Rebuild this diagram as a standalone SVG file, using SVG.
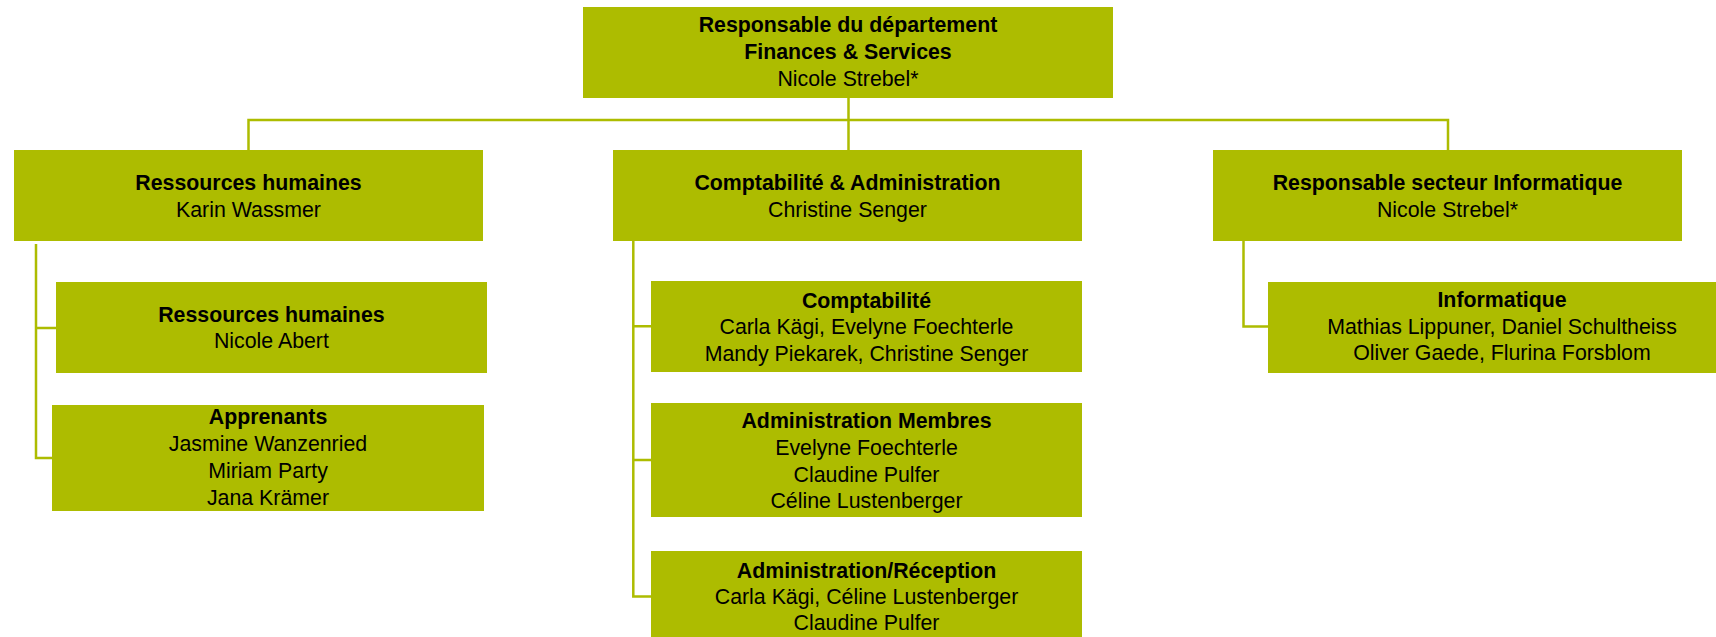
<svg xmlns="http://www.w3.org/2000/svg" width="1716" height="637" viewBox="0 0 1716 637">
<style>
.box{fill:#adbc00;}
.c{fill:none;stroke:#adbc00;stroke-width:2.5;}
text{font-family:"Liberation Sans",Arial,sans-serif;font-size:21.33px;fill:#000;text-anchor:middle;}
.b{font-weight:bold;}
</style>
<rect width="1716" height="637" fill="#ffffff"/>
<g id="connectors">
<path class="c" d="M848.5 97 V120 M248.5 150 V120 H1448 V150 M848.5 120 V150"/>
<path class="c" d="M36 244 V458 H52 M36 328 H56"/>
<path class="c" d="M633.3 241 V596.5 H651 M633.3 326.3 H651 M633.3 460 H651"/>
<path class="c" d="M1243.5 241 V326.5 H1268"/>
</g>
<g id="top">
<rect class="box" x="583" y="7" width="530" height="91"/>
<text x="848" y="32" class="b">Responsable du département</text>
<text x="848" y="59" class="b">Finances &amp; Services</text>
<text x="848" y="86">Nicole Strebel*</text>
</g>
<g id="rh">
<rect class="box" x="14" y="150" width="469" height="91"/>
<text x="248.5" y="190" class="b">Ressources humaines</text>
<text x="248.5" y="216.7">Karin Wassmer</text>
</g>
<g id="compta-admin">
<rect class="box" x="613" y="150" width="469" height="91"/>
<text x="847.5" y="190" class="b">Comptabilité &amp; Administration</text>
<text x="847.5" y="216.7">Christine Senger</text>
</g>
<g id="info-resp">
<rect class="box" x="1213" y="150" width="469" height="91"/>
<text x="1447.5" y="190" class="b">Responsable secteur Informatique</text>
<text x="1447.5" y="216.7">Nicole Strebel*</text>
</g>
<g id="rh2">
<rect class="box" x="56" y="282" width="431" height="91"/>
<text x="271.4" y="321.7" class="b">Ressources humaines</text>
<text x="271.4" y="348.3">Nicole Abert</text>
</g>
<g id="apprenants">
<rect class="box" x="52" y="405" width="432" height="106"/>
<text x="268" y="424.3" class="b">Apprenants</text>
<text x="268" y="451">Jasmine Wanzenried</text>
<text x="268" y="478.3">Miriam Party</text>
<text x="268" y="505">Jana Krämer</text>
</g>
<g id="comptabilite">
<rect class="box" x="651" y="281" width="431" height="91"/>
<text x="866.5" y="307.7" class="b">Comptabilité</text>
<text x="866.5" y="334">Carla Kägi, Evelyne Foechterle</text>
<text x="866.5" y="361">Mandy Piekarek, Christine Senger</text>
</g>
<g id="admin-membres">
<rect class="box" x="651" y="403" width="431" height="114"/>
<text x="866.5" y="428.3" class="b">Administration Membres</text>
<text x="866.5" y="455">Evelyne Foechterle</text>
<text x="866.5" y="481.7">Claudine Pulfer</text>
<text x="866.5" y="507.7">Céline Lustenberger</text>
</g>
<g id="admin-reception">
<rect class="box" x="651" y="551" width="431" height="90"/>
<text x="866.5" y="578.3" class="b">Administration/Réception</text>
<text x="866.5" y="604">Carla Kägi, Céline Lustenberger</text>
<text x="866.5" y="630">Claudine Pulfer</text>
</g>
<g id="informatique">
<rect class="box" x="1268" y="282" width="468" height="91"/>
<text x="1502" y="307.3" class="b">Informatique</text>
<text x="1502" y="334.3">Mathias Lippuner, Daniel Schultheiss</text>
<text x="1502" y="360">Oliver Gaede, Flurina Forsblom</text>
</g>
</svg>
